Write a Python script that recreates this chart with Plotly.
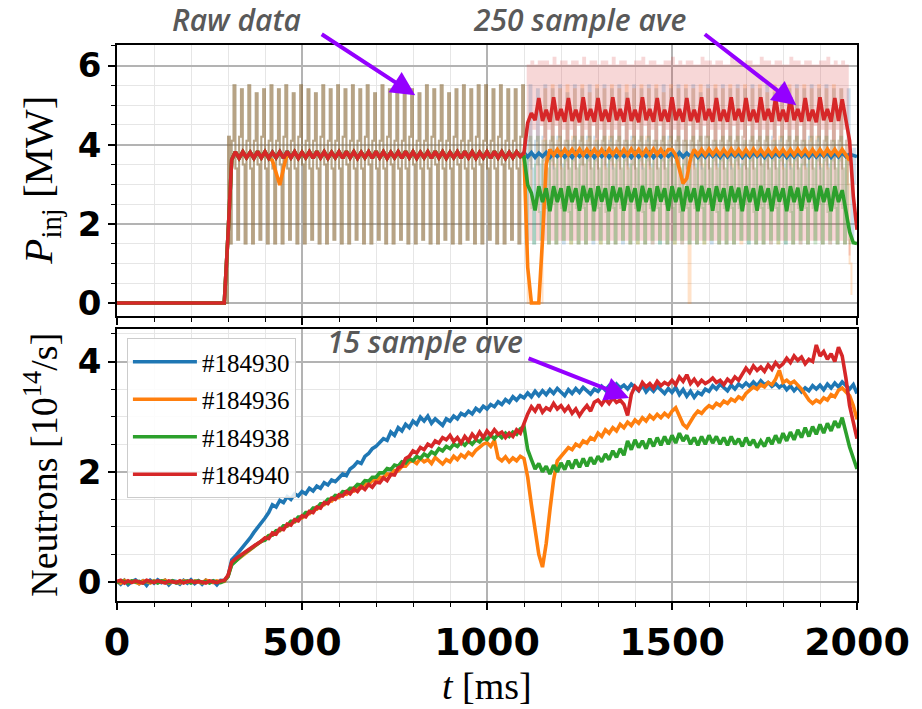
import numpy as np
import plotly.graph_objects as go

# ---------------- data ----------------
shots = ["#184930", "#184936", "#184938", "#184940"]
colors = ["#1f77b4", "#ff7f0e", "#2ca02c", "#d62728"]

# Raw injected power, common to all shots, t = 295 ... 1095 ms every 5 ms
pinj_raw_early = [
    0.0, 4.2,
    1.5, 4.1, 5.5, 3.4, 1.6, 4.2, 5.4, 3.5,
    1.5, 4.1, 5.5, 3.4, 1.5, 4.1, 5.3, 3.5,
    1.6, 4.2, 5.4, 3.4, 1.5, 4.1, 5.5, 3.4,
    1.5, 4.1, 5.4, 3.5, 1.5, 4.2, 5.5, 3.4,
    1.6, 4.1, 5.3, 3.4, 1.5, 4.2, 5.5, 3.5,
    1.5, 4.1, 5.4, 3.4, 1.6, 4.1, 5.3, 3.4,
    1.5, 4.2, 5.5, 3.5, 1.5, 4.1, 5.4, 3.4,
    1.6, 4.1, 5.5, 3.4, 1.5, 4.2, 5.4, 3.5,
    1.5, 4.1, 5.5, 3.4, 1.6, 4.1, 5.4, 3.4,
    1.5, 4.2, 5.5, 3.5, 1.5, 4.1, 5.3, 3.4,
    1.6, 4.1, 5.5, 3.4, 1.5, 4.2, 5.4, 3.5,
    1.5, 4.1, 5.4, 3.4, 1.6, 4.1, 5.5, 3.4,
    1.5, 4.2, 5.4, 3.5, 1.5, 4.1, 5.3, 3.4,
    1.6, 4.1, 5.5, 3.4, 1.5, 4.2, 5.4, 3.5,
    1.5, 4.1, 5.5, 3.4, 1.6, 4.1, 5.3, 3.4,
    1.5, 4.2, 5.4, 3.5, 1.5, 4.1, 5.5, 3.4,
    1.6, 4.1, 5.4, 3.4, 1.5, 4.2, 5.5, 3.5,
    1.5, 4.1, 5.5, 3.4, 1.6, 4.1, 5.4, 3.4,
    1.5, 4.2, 5.5, 3.5, 1.5, 4.1, 5.4, 3.4,
    1.6, 4.1, 5.4, 3.4, 1.5, 4.2, 5.5,
]

# Raw injected power per shot, t = 1100 ... 1995 ms every 5 ms
pinj_raw_late_930 = [
    3.4, 1.5, 4.1, 5.5, 3.4, 1.5, 4.1, 5.4, 3.5, 1.6, 4.2, 5.5,
    3.4, 1.5, 4.1, 5.4, 3.4, 1.5, 4.2, 5.5, 3.5, 1.5, 4.1, 5.3,
    3.4, 1.6, 4.1, 5.5, 3.4, 1.5, 4.1, 5.4, 3.5, 1.5, 4.2, 5.5,
    3.4, 1.5, 4.2, 5.4, 3.4, 1.6, 4.1, 5.5, 3.5, 1.5, 4.1, 5.4,
    3.4, 1.5, 4.1, 5.5, 3.4, 1.5, 4.1, 5.3, 3.5, 1.5, 4.2, 5.5,
    3.4, 1.6, 4.1, 5.4, 3.4, 1.5, 4.1, 5.5, 3.5, 1.5, 4.1, 5.4,
    3.4, 1.5, 4.1, 5.5, 3.4, 1.5, 4.2, 5.4, 3.5, 1.6, 4.1, 5.5,
    3.4, 1.5, 4.1, 5.4, 3.4, 1.5, 4.1, 5.5, 3.5, 1.5, 4.1, 5.3,
    3.4, 1.6, 4.2, 5.5, 3.4, 1.5, 4.1, 5.4, 3.5, 1.5, 4.1, 5.5,
    3.4, 1.5, 4.1, 5.4, 3.4, 1.5, 4.1, 5.5, 3.5, 1.6, 4.2, 5.4,
    3.4, 1.5, 4.1, 5.5, 3.4, 1.5, 4.1, 5.4, 3.5, 1.5, 4.1, 5.5,
    3.4, 1.5, 4.2, 5.3, 3.4, 1.6, 4.1, 5.5, 3.5, 1.5, 4.1, 5.4,
    3.4, 1.5, 4.1, 5.5, 3.4, 1.5, 4.1, 5.4, 3.5, 1.5, 4.2, 5.5,
    3.4, 1.6, 4.1, 5.4, 3.4, 1.5, 4.1, 5.5, 3.5, 1.5, 4.1, 5.4,
    3.4, 1.5, 4.1, 5.4, 3.4, 1.5, 4.1, 5.4, 3.5, 1.6, 3.9, 3.0,
]
pinj_raw_late_936 = [
    3.4, 1.5, 0.0, 0.0, 0.0, 0.0, 0.0, 0.0, 0.0, 0.0, 4.1, 5.4,
    3.4, 1.5, 4.1, 5.5, 3.5, 1.5, 4.1, 5.4, 3.4, 1.6, 4.1, 5.5,
    3.4, 1.5, 4.2, 5.4, 3.4, 1.5, 4.1, 5.5, 3.5, 1.5, 4.1, 5.3,
    3.4, 1.6, 4.1, 5.5, 3.4, 1.5, 4.1, 5.4, 3.4, 1.5, 4.2, 5.5,
    3.5, 1.5, 4.1, 5.4, 3.4, 1.6, 4.1, 5.5, 3.4, 1.5, 4.1, 5.4,
    3.4, 1.5, 4.1, 5.5, 3.5, 1.5, 4.2, 5.4, 3.4, 1.5, 4.1, 5.5,
    3.4, 1.6, 4.1, 5.3, 3.4, 1.5, 4.1, 5.5, 3.5, 1.5, 4.1, 5.4,
    3.4, 1.5, 4.1, 5.5, 3.4, 0.0, 4.1, 5.4, 3.4, 1.5, 4.1, 5.5,
    3.5, 1.5, 4.2, 5.4, 3.4, 1.6, 4.1, 5.5, 3.4, 1.5, 4.1, 5.4,
    3.4, 1.5, 4.1, 5.5, 3.5, 1.5, 4.1, 5.4, 3.4, 1.5, 4.2, 5.5,
    3.4, 1.6, 4.1, 5.4, 3.4, 1.5, 4.1, 5.5, 3.5, 1.5, 4.1, 5.3,
    3.4, 1.5, 4.1, 5.5, 3.4, 1.5, 4.2, 5.4, 3.4, 1.6, 4.1, 5.5,
    3.5, 1.5, 4.1, 5.4, 3.4, 1.5, 4.1, 5.5, 3.4, 1.5, 4.1, 5.4,
    3.4, 1.6, 4.2, 5.5, 3.5, 1.5, 4.1, 5.4, 3.4, 1.5, 4.1, 5.5,
    3.4, 1.5, 4.1, 5.4, 3.4, 1.5, 4.1, 3.0, 1.0, 0.2, None, None,
]
pinj_raw_late_938 = [
    3.9, 1.5, 3.6, 4.2, 2.4, 1.5, 3.5, 4.2, 2.3, 1.6, 3.6, 4.1,
    2.4, 1.5, 3.6, 4.2, 2.5, 1.5, 3.7, 4.2, 2.4, 1.6, 3.6, 4.1,
    2.3, 1.5, 3.6, 4.2, 2.4, 1.5, 3.5, 4.2, 2.4, 1.5, 3.6, 4.2,
    2.5, 1.6, 3.6, 4.1, 2.4, 1.5, 3.7, 4.2, 2.3, 1.5, 3.6, 4.2,
    2.4, 1.5, 3.6, 4.2, 2.4, 1.6, 3.6, 4.1, 2.5, 1.5, 3.5, 4.2,
    2.4, 1.5, 3.6, 4.2, 2.3, 1.5, 3.6, 4.2, 2.4, 1.6, 3.7, 4.1,
    2.4, 1.5, 3.6, 4.2, 2.5, 1.5, 3.6, 4.2, 2.4, 1.5, 3.6, 4.2,
    2.3, 1.6, 3.5, 4.1, 2.4, 1.5, 3.6, 4.2, 2.4, 1.5, 3.6, 4.2,
    2.4, 1.5, 3.7, 4.2, 2.5, 1.6, 3.6, 4.1, 2.3, 1.5, 3.6, 4.2,
    2.4, 1.5, 3.6, 4.2, 2.4, 1.5, 3.6, 4.2, 2.4, 1.6, 3.5, 4.1,
    2.5, 1.5, 3.6, 4.2, 2.3, 1.5, 3.7, 4.2, 2.4, 1.5, 3.6, 4.2,
    2.4, 1.6, 3.6, 4.1, 2.4, 1.5, 3.6, 4.2, 2.5, 1.5, 3.6, 4.2,
    2.3, 1.5, 3.6, 4.2, 2.4, 1.6, 3.5, 4.1, 2.4, 1.5, 3.7, 4.2,
    2.4, 1.5, 3.6, 4.2, 2.5, 1.5, 3.6, 4.2, 2.3, 1.6, 3.6, 4.1,
    2.4, 1.5, 3.6, 4.2, 2.4, 1.5, 3.6, 2.0, 1.5, 1.5, None, None,
]
pinj_raw_late_940 = [
    4.0, 4.4, 6.0, 1.6, 6.1, 4.4, 6.0, 1.6, 6.1, 4.5, 6.1, 1.6,
    6.1, 4.4, 6.0, 1.6, 6.2, 4.5, 6.0, 1.6, 6.1, 4.4, 6.1, 1.6,
    6.0, 4.4, 6.1, 1.6, 6.1, 4.5, 6.0, 1.6, 6.2, 4.4, 6.0, 1.6,
    6.1, 4.5, 6.1, 1.6, 6.0, 4.4, 6.1, 1.6, 6.1, 4.4, 6.0, 1.6,
    6.2, 4.4, 6.0, 1.6, 6.1, 4.5, 6.1, 1.6, 6.0, 4.4, 6.0, 1.6,
    6.1, 4.4, 6.1, 1.6, 6.2, 4.5, 6.0, 1.6, 6.1, 4.4, 6.1, 1.6,
    6.0, 4.5, 6.0, 1.6, 6.1, 4.4, 6.1, 1.6, 6.2, 4.4, 6.0, 1.6,
    6.1, 4.4, 6.0, 1.6, 6.1, 4.5, 6.1, 1.6, 6.0, 4.4, 6.0, 1.6,
    6.2, 4.5, 6.1, 1.6, 6.1, 4.4, 6.0, 1.6, 6.1, 4.4, 6.1, 1.6,
    6.0, 4.4, 6.0, 1.6, 6.2, 4.5, 6.1, 1.6, 6.1, 4.4, 6.0, 1.6,
    6.1, 4.5, 6.1, 1.6, 6.0, 4.4, 6.0, 1.6, 6.2, 4.4, 6.1, 1.6,
    6.1, 4.4, 6.0, 1.6, 6.1, 4.5, 6.1, 1.6, 6.0, 4.4, 6.0, 1.6,
    6.2, 4.4, 6.1, 1.6, 6.1, 4.5, 6.0, 1.6, 6.1, 4.4, 6.1, 1.6,
    6.0, 4.5, 6.0, 1.6, 6.1, 4.4, 6.1, 1.6, 6.2, 4.4, 6.0, 1.6,
    6.1, 4.4, 6.0, 1.6, 6.1, 4.4, 6.0, 1.6, 1.2, None, None, None,
]

# 250-sample average of injected power, common part, t = 0 ... 1090 ms every 10 ms
pinj_avg_early = [
    0, 0, 0, 0, 0, 0, 0, 0, 0, 0,
    0, 0, 0, 0, 0, 0, 0, 0, 0, 0,
    0, 0, 0, 0, 0, 0, 0, 0, 0, 0,
    1.70, 3.62, 3.82, 3.66, 3.82, 3.67, 3.81, 3.66, 3.83, 3.67,
    3.82, 3.66, 3.81, 3.67, 3.82, 3.66, 3.83, 3.67, 3.82, 3.66,
    3.81, 3.67, 3.82, 3.66, 3.83, 3.67, 3.82, 3.66, 3.81, 3.67,
    3.82, 3.66, 3.83, 3.67, 3.82, 3.66, 3.81, 3.67, 3.82, 3.66,
    3.83, 3.67, 3.82, 3.66, 3.81, 3.67, 3.82, 3.66, 3.83, 3.67,
    3.82, 3.66, 3.81, 3.67, 3.82, 3.66, 3.83, 3.67, 3.82, 3.66,
    3.81, 3.67, 3.82, 3.66, 3.83, 3.67, 3.82, 3.66, 3.81, 3.67,
    3.82, 3.66, 3.83, 3.67, 3.82, 3.66, 3.81, 3.67, 3.82, 3.70,
]
# brief dip of shot #184936 near 440 ms
pinj_avg_936_dip_t = [420, 430, 440, 450, 460]
pinj_avg_936_dip = [3.60, 3.25, 2.98, 3.40, 3.78]

# 250-sample average per shot, t = 1100 ... 2000 ms every 10 ms
pinj_avg_late_930 = [
    3.80, 3.69, 3.80, 3.68, 3.79, 3.70, 3.80, 3.68, 3.79, 3.70,
    3.80, 3.69, 3.79, 3.68, 3.80, 3.70, 3.79, 3.69, 3.80, 3.68,
    3.79, 3.70, 3.80, 3.68, 3.79, 3.69, 3.80, 3.70, 3.79, 3.68,
    3.80, 3.69, 3.79, 3.70, 3.80, 3.68, 3.79, 3.69, 3.80, 3.70,
    3.79, 3.68, 3.80, 3.69, 3.79, 3.70, 3.80, 3.68, 3.79, 3.69,
    3.80, 3.70, 3.79, 3.68, 3.80, 3.69, 3.79, 3.70, 3.80, 3.68,
    3.79, 3.69, 3.80, 3.70, 3.79, 3.68, 3.80, 3.69, 3.79, 3.70,
    3.80, 3.68, 3.79, 3.69, 3.80, 3.70, 3.79, 3.68, 3.80, 3.69,
    3.79, 3.70, 3.80, 3.68, 3.79, 3.69, 3.80, 3.70, 3.76, 3.72,
    3.70,
]
pinj_avg_late_936 = [
    3.72, 0.90, 0.00, 0.00, 0.00, 1.60, 3.50, 3.88, 3.74, 3.88,
    3.74, 3.88, 3.75, 3.88, 3.74, 3.89, 3.74, 3.88, 3.75, 3.88,
    3.74, 3.88, 3.74, 3.89, 3.75, 3.88, 3.74, 3.88, 3.74, 3.89,
    3.75, 3.88, 3.74, 3.88, 3.74, 3.89, 3.75, 3.88, 3.74, 3.88,
    3.88, 3.74, 3.35, 3.02, 3.15, 3.65, 3.88, 3.74, 3.88, 3.74,
    3.89, 3.75, 3.88, 3.74, 3.88, 3.74, 3.89, 3.75, 3.88, 3.74,
    3.88, 3.74, 3.89, 3.75, 3.88, 3.74, 3.88, 3.74, 3.89, 3.75,
    3.88, 3.74, 3.88, 3.74, 3.89, 3.75, 3.88, 3.74, 3.88, 3.74,
    3.88, 3.74, 3.89, 3.75, 3.88, 3.74, 3.88, 3.74, 3.60, None,
    None,
]
pinj_avg_late_938 = [
    3.70, 2.98, 2.78, 2.34, 2.95, 2.55, 2.90, 2.32, 2.95, 2.55,
    2.90, 2.32, 2.95, 2.55, 2.90, 2.33, 2.96, 2.55, 2.90, 2.32,
    2.95, 2.56, 2.90, 2.32, 2.95, 2.55, 2.91, 2.33, 2.95, 2.55,
    2.90, 2.32, 2.96, 2.55, 2.90, 2.32, 2.95, 2.56, 2.90, 2.33,
    2.95, 2.55, 2.91, 2.32, 2.95, 2.55, 2.90, 2.32, 2.96, 2.55,
    2.90, 2.33, 2.95, 2.56, 2.90, 2.32, 2.95, 2.55, 2.91, 2.32,
    2.95, 2.55, 2.90, 2.33, 2.96, 2.55, 2.90, 2.32, 2.95, 2.56,
    2.90, 2.32, 2.95, 2.55, 2.91, 2.33, 2.95, 2.55, 2.90, 2.32,
    2.96, 2.55, 2.90, 2.32, 2.95, 2.55, 2.85, 2.35, 1.80, 1.52,
    1.50,
]
pinj_avg_late_940 = [
    3.80, 4.55, 4.80, 4.62, 5.18, 4.60, 4.88, 4.58, 5.20, 4.62,
    4.90, 4.58, 5.18, 4.60, 4.88, 4.57, 5.20, 4.62, 4.90, 4.58,
    5.18, 4.60, 4.88, 4.58, 5.20, 4.62, 4.90, 4.58, 5.18, 4.60,
    4.88, 4.57, 5.20, 4.62, 4.90, 4.58, 5.18, 4.60, 4.88, 4.58,
    5.20, 4.62, 4.90, 4.58, 5.18, 4.60, 4.88, 4.57, 5.20, 4.62,
    4.90, 4.58, 5.18, 4.60, 4.88, 4.58, 5.20, 4.62, 4.90, 4.58,
    5.18, 4.60, 4.88, 4.57, 5.20, 4.62, 4.90, 4.58, 5.18, 4.60,
    4.88, 4.58, 5.20, 4.62, 4.90, 4.58, 5.18, 4.60, 4.88, 4.57,
    5.20, 4.62, 4.90, 4.58, 5.18, 4.60, 5.15, 4.60, 4.10, 2.70,
    1.85,
]

# Neutron rate (15-sample average), 1e14/s, t = 0 ... 2000 ms every 10 ms
neut_930 = [
    0.02, -0.04, 0.03, -0.05, 0.01, 0.04, -0.03, 0.02, -0.06, 0.03,
    -0.02, 0.04, -0.01, 0.03, -0.05, 0.02, 0.01, -0.04, 0.03, -0.02,
    0.04, -0.03, 0.02, -0.04, 0.03, -0.01, 0.02, -0.05, 0.03, 0.02,
    0.10, 0.40, 0.47, 0.55, 0.64, 0.72, 0.80, 0.90, 0.98, 1.06,
    1.16, 1.26, 1.40, 1.36, 1.48, 1.44, 1.55, 1.50, 1.60, 1.56,
    1.64, 1.60, 1.70, 1.65, 1.74, 1.70, 1.80, 1.76, 1.85, 1.82,
    1.90, 1.96, 1.93, 2.05, 2.10, 2.18, 2.15, 2.28, 2.33, 2.42,
    2.46, 2.54, 2.60, 2.57, 2.72, 2.66, 2.80, 2.74, 2.86, 2.80,
    2.92, 2.86, 2.99, 2.92, 3.01, 2.88, 2.96, 2.90, 2.84, 2.96,
    2.92, 3.01, 2.96, 3.06, 3.02, 3.10, 3.05, 3.15, 3.10, 3.19,
    3.14, 3.22, 3.18, 3.27, 3.22, 3.31, 3.26, 3.36, 3.30, 3.38,
    3.34, 3.43, 3.36, 3.46, 3.38, 3.47, 3.40, 3.49, 3.42, 3.51,
    3.44, 3.38, 3.49, 3.42, 3.51, 3.44, 3.53, 3.46, 3.41, 3.50,
    3.46, 3.55, 3.48, 3.56, 3.50, 3.59, 3.52, 3.57, 3.50, 3.59,
    3.52, 3.47, 3.57, 3.45, 3.53, 3.46, 3.55, 3.48, 3.42, 3.51,
    3.44, 3.53, 3.40, 3.49, 3.37, 3.46, 3.35, 3.44, 3.40, 3.50,
    3.46, 3.56, 3.50, 3.59, 3.52, 3.47, 3.57, 3.50, 3.59, 3.54,
    3.61, 3.55, 3.63, 3.56, 3.65, 3.58, 3.62, 3.55, 3.60, 3.53,
    3.58, 3.49, 3.56, 3.47, 3.54, 3.45, 3.52, 3.47, 3.56, 3.50,
    3.57, 3.49, 3.59, 3.52, 3.61, 3.54, 3.63, 3.56, 3.50, 3.58,
    3.42,
]
neut_936 = [
    0.01, -0.02, 0.03, -0.01, 0.02, 0.00, -0.03, 0.02, 0.01, -0.02,
    0.02, -0.01, 0.01, 0.03, -0.02, 0.01, 0.00, -0.02, 0.02, 0.01,
    -0.01, 0.02, 0.00, -0.02, 0.03, 0.01, -0.01, 0.02, 0.00, 0.01,
    0.10, 0.33, 0.38, 0.44, 0.49, 0.54, 0.59, 0.64, 0.69, 0.73,
    0.77, 0.84, 0.85, 0.92, 0.93, 1.01, 1.01, 1.09, 1.09, 1.16,
    1.16, 1.24, 1.24, 1.32, 1.32, 1.40, 1.40, 1.48, 1.47, 1.54,
    1.53, 1.60, 1.59, 1.66, 1.65, 1.72, 1.71, 1.78, 1.77, 1.84,
    1.83, 1.90, 1.89, 1.96, 1.95, 2.02, 2.02, 2.10, 2.10, 2.18,
    2.20, 2.15, 2.24, 2.18, 2.22, 2.15, 2.26, 2.20, 2.14, 2.22,
    2.18, 2.28, 2.22, 2.31, 2.26, 2.35, 2.30, 2.39, 2.45, 2.50,
    2.53, 2.46, 2.57, 2.25, 2.20, 2.27, 2.18, 2.25, 2.20, 2.28,
    2.24, 1.90, 1.40, 0.90, 0.50, 0.27, 0.70, 1.30, 1.85, 2.20,
    2.28, 2.36, 2.44, 2.40, 2.50, 2.46, 2.56, 2.52, 2.62, 2.58,
    2.70, 2.64, 2.76, 2.70, 2.80, 2.74, 2.86, 2.80, 2.90, 2.84,
    2.94, 2.88, 2.98, 2.92, 3.02, 2.96, 3.04, 2.98, 3.06, 3.00,
    3.10, 3.16, 3.02, 2.86, 2.80, 2.92, 3.02, 3.10, 3.06, 3.14,
    3.20, 3.16, 3.24, 3.20, 3.28, 3.24, 3.32, 3.28, 3.36, 3.32,
    3.42, 3.48, 3.54, 3.50, 3.58, 3.54, 3.62, 3.58, 3.68, 3.84,
    3.62, 3.66, 3.60, 3.64, 3.58, 3.50, 3.40, 3.30, 3.24, 3.30,
    3.26, 3.34, 3.30, 3.40, 3.36, 3.48, 3.52, 3.46, 3.38, 3.20,
    2.95,
]
neut_938 = [
    -0.01, 0.02, 0.01, -0.02, 0.02, 0.00, 0.01, -0.02, 0.02, 0.00,
    0.01, -0.02, 0.02, 0.01, -0.01, 0.02, -0.02, 0.01, 0.00, 0.02,
    -0.02, 0.01, 0.02, -0.01, 0.01, -0.02, 0.02, 0.00, -0.01, 0.02,
    0.10, 0.31, 0.38, 0.44, 0.50, 0.55, 0.60, 0.65, 0.70, 0.74,
    0.76, 0.84, 0.85, 0.93, 0.94, 1.02, 1.02, 1.10, 1.10, 1.18,
    1.18, 1.26, 1.26, 1.34, 1.34, 1.42, 1.42, 1.50, 1.50, 1.57,
    1.56, 1.64, 1.63, 1.70, 1.70, 1.77, 1.76, 1.84, 1.83, 1.90,
    1.90, 1.98, 1.98, 2.06, 2.04, 2.12, 2.10, 2.18, 2.16, 2.24,
    2.20, 2.28, 2.24, 2.32, 2.28, 2.36, 2.32, 2.42, 2.38, 2.46,
    2.42, 2.50, 2.46, 2.54, 2.48, 2.56, 2.50, 2.58, 2.54, 2.62,
    2.58, 2.66, 2.60, 2.68, 2.62, 2.70, 2.64, 2.72, 2.68, 2.78,
    2.82, 2.40, 2.22, 2.05, 2.15, 2.00, 2.10, 1.96, 2.12, 2.00,
    2.16, 2.04, 2.20, 2.06, 2.22, 2.08, 2.24, 2.10, 2.26, 2.14,
    2.28, 2.18, 2.32, 2.22, 2.38, 2.26, 2.42, 2.30, 2.56, 2.40,
    2.58, 2.44, 2.56, 2.42, 2.60, 2.46, 2.62, 2.48, 2.64, 2.50,
    2.66, 2.52, 2.70, 2.56, 2.66, 2.50, 2.62, 2.48, 2.64, 2.50,
    2.66, 2.52, 2.64, 2.50, 2.62, 2.48, 2.64, 2.50, 2.60, 2.46,
    2.62, 2.48, 2.58, 2.44, 2.56, 2.46, 2.62, 2.50, 2.66, 2.52,
    2.70, 2.56, 2.72, 2.58, 2.76, 2.62, 2.80, 2.64, 2.82, 2.68,
    2.86, 2.70, 2.88, 2.74, 2.92, 2.80, 2.98, 2.70, 2.45, 2.25,
    2.05,
]
neut_940 = [
    0.01, 0.03, -0.02, 0.02, -0.01, 0.02, 0.00, -0.02, 0.03, 0.01,
    -0.01, 0.02, 0.00, -0.02, 0.02, 0.01, -0.01, 0.02, -0.02, 0.01,
    0.02, -0.01, 0.01, 0.00, -0.02, 0.02, 0.01, -0.01, 0.02, 0.03,
    0.12, 0.36, 0.42, 0.47, 0.52, 0.56, 0.61, 0.66, 0.70, 0.74,
    0.80, 0.79, 0.89, 0.87, 0.97, 0.95, 1.05, 1.03, 1.13, 1.11,
    1.20, 1.18, 1.28, 1.26, 1.36, 1.34, 1.44, 1.42, 1.52, 1.50,
    1.58, 1.56, 1.64, 1.60, 1.69, 1.64, 1.73, 1.68, 1.77, 1.72,
    1.81, 1.80, 1.89, 1.84, 1.95, 1.94, 2.07, 2.10, 2.24, 2.28,
    2.38, 2.34, 2.44, 2.40, 2.50, 2.46, 2.56, 2.52, 2.62, 2.58,
    2.66, 2.55, 2.62, 2.52, 2.64, 2.56, 2.68, 2.60, 2.72, 2.62,
    2.74, 2.66, 2.76, 2.68, 2.72, 2.62, 2.70, 2.64, 2.76, 2.70,
    2.88, 3.05, 3.18, 3.10, 3.22, 3.08, 3.16, 3.12, 3.24, 3.14,
    3.20, 3.10, 3.18, 3.06, 3.14, 3.02, 3.12, 3.20, 3.10, 3.26,
    3.30, 3.22, 3.32, 3.24, 3.34, 3.26, 3.30, 3.22, 3.02, 3.40,
    3.55, 3.48, 3.62, 3.54, 3.60, 3.52, 3.64, 3.56, 3.62, 3.58,
    3.66, 3.58, 3.72, 3.64, 3.76, 3.60, 3.68, 3.58, 3.66, 3.60,
    3.64, 3.70, 3.62, 3.66, 3.58, 3.68, 3.62, 3.72, 3.66, 3.78,
    3.88, 3.80, 3.92, 3.84, 3.90, 3.82, 3.94, 3.86, 3.98, 3.90,
    3.96, 4.06, 3.98, 4.10, 4.02, 4.08, 3.96, 4.04, 4.00, 4.30,
    4.10, 4.18, 4.04, 4.14, 4.00, 4.26, 4.10, 3.70, 3.20, 2.90,
    2.60,
]

pinj_raw_late = [pinj_raw_late_930, pinj_raw_late_936, pinj_raw_late_938, pinj_raw_late_940]
pinj_avg_late = [pinj_avg_late_930, pinj_avg_late_936, pinj_avg_late_938, pinj_avg_late_940]
neutrons = [neut_930, neut_936, neut_938, neut_940]

# ---------------- figure ----------------
fig = go.Figure()

t_raw_early = 295 + 5 * np.arange(len(pinj_raw_early))
for i in range(4):
    t_late = 1100 + 5 * np.arange(len(pinj_raw_late[i]))
    fig.add_trace(go.Scatter(
        x=np.concatenate([t_raw_early, t_late]),
        y=list(pinj_raw_early) + list(pinj_raw_late[i]),
        mode="lines", line=dict(color=colors[i], width=2, shape="hv"),
        opacity=0.18 if i == 3 else 0.22,
        showlegend=False, hoverinfo="skip", xaxis="x", yaxis="y"))

t_avg_early = 10 * np.arange(len(pinj_avg_early))
for i in range(4):
    y_early = list(pinj_avg_early)
    if i == 1:
        for tt, vv in zip(pinj_avg_936_dip_t, pinj_avg_936_dip):
            y_early[tt // 10] = vv
    t_late = 1100 + 10 * np.arange(len(pinj_avg_late[i]))
    fig.add_trace(go.Scatter(
        x=np.concatenate([t_avg_early, t_late]),
        y=y_early + list(pinj_avg_late[i]),
        mode="lines", line=dict(color=colors[i], width=3.6),
        showlegend=False, xaxis="x", yaxis="y"))

for i in range(4):
    t_n = 10 * np.arange(len(neutrons[i]))
    fig.add_trace(go.Scatter(
        x=t_n, y=neutrons[i], mode="lines", name=shots[i],
        legendgroup=shots[i],
        line=dict(color=colors[i], width=3.6), xaxis="x2", yaxis="y2"))

axstyle = dict(showline=True, linecolor="black", linewidth=1.5, mirror=True,
               ticks="outside", ticklen=7, tickwidth=1.5, tickcolor="black",
               showgrid=True, gridcolor="#b3b3b3", gridwidth=1.5, zeroline=False)

def minor(dt):
    return dict(dtick=dt, ticks="outside", ticklen=4, tickwidth=1, tickcolor="black",
                showgrid=True, gridcolor="#e6e6e6", gridwidth=1)

tickfont_x = dict(family="DejaVu Sans", size=38, color="black", weight="bold")
tickfont_y = dict(family="DejaVu Sans", size=34, color="black", weight="bold")

fig.update_layout(
    width=922, height=709,
    margin=dict(l=117, r=61, t=45, b=108),
    paper_bgcolor="white", plot_bgcolor="white",
    xaxis=dict(domain=[0, 1], anchor="y", range=[0, 2000], dtick=500,
               showticklabels=False, minor=minor(100), **axstyle),
    yaxis=dict(domain=[0.5126, 1], anchor="x", range=[-0.33, 6.52], dtick=2,
               tickfont=tickfont_y, minor=minor(0.5), **axstyle),
    xaxis2=dict(domain=[0, 1], anchor="y2", range=[0, 2000], dtick=500,
                tickfont=tickfont_x, minor=minor(100), **axstyle),
    yaxis2=dict(domain=[0, 0.4892], anchor="x2", range=[-0.345, 4.59], dtick=2,
                tickfont=tickfont_y, minor=minor(0.5), **axstyle),
    legend=dict(x=0.0134, y=0.473, xanchor="left", yanchor="top",
                bgcolor="rgba(255,255,255,0.85)", bordercolor="#cccccc", borderwidth=1,
                font=dict(family="Liberation Serif", size=25, color="black"),
                itemwidth=64, tracegroupgap=2),
    showlegend=True,
)

serif = dict(family="Liberation Serif", size=38, color="black")
serif_big = dict(family="Liberation Serif", size=41, color="black")
note_font = dict(family="Open Sans", size=30, color="#595959", style="italic", weight=600)
arrow_color = "#9400ff"

annotations = [
    dict(text="<i>P</i><sub>inj</sub> [MW]", xref="paper", yref="paper",
         x=-0.102, y=0.757, textangle=-90, showarrow=False, font=serif_big,
         xanchor="center", yanchor="middle"),
    dict(text="Neutrons [10<sup>14</sup>/s]", xref="paper", yref="paper",
         x=-0.103, y=0.2446, textangle=-90, showarrow=False, font=serif,
         xanchor="center", yanchor="middle"),
    dict(text="<i>t</i> [ms]", xref="paper", yref="paper",
         x=0.5, y=-0.152, showarrow=False, font=serif,
         xanchor="center", yanchor="middle"),
    dict(text="Raw data", xref="paper", yref="paper", x=0.161, y=1.045,
         showarrow=False, font=note_font, xanchor="center", yanchor="middle"),
    dict(text="250 sample ave", xref="paper", yref="paper", x=0.625, y=1.045,
         showarrow=False, font=note_font, xanchor="center", yanchor="middle"),
    dict(text="15 sample ave", xref="paper", yref="paper", x=0.4167, y=0.4676,
         showarrow=False, font=note_font, xanchor="center", yanchor="middle"),
    dict(text="", x=806, y=5.25, xref="x", yref="y", ax=-95, ay=-62,
         showarrow=True, arrowhead=2, arrowsize=1.2, arrowwidth=4, arrowcolor=arrow_color),
    dict(text="", x=1836, y=5.0, xref="x", yref="y", ax=-93, ay=-72,
         showarrow=True, arrowhead=2, arrowsize=1.2, arrowwidth=4, arrowcolor=arrow_color),
    dict(text="", x=1384, y=3.34, xref="x2", yref="y2", ax=-102, ay=-40,
         showarrow=True, arrowhead=2, arrowsize=1.2, arrowwidth=4, arrowcolor=arrow_color),
]
fig.update_layout(annotations=annotations)

fig.write_html("out.html")
